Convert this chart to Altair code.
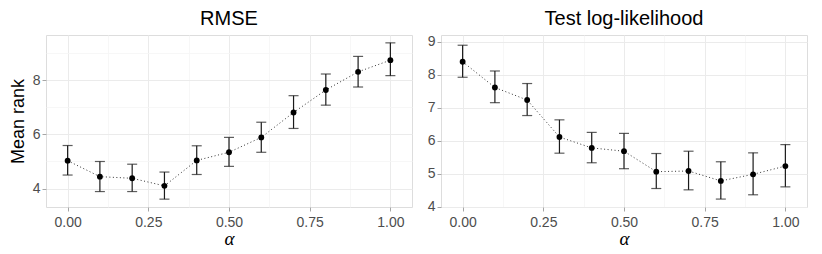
import altair as alt
import pandas as pd

alpha = [0.0, 0.1, 0.2, 0.3, 0.4, 0.5, 0.6, 0.7, 0.8, 0.9, 1.0]

rmse_mean = [5.03, 4.44, 4.38, 4.10, 5.04, 5.34, 5.89, 6.81, 7.64, 8.31, 8.74]
rmse_lo = [4.50, 3.89, 3.89, 3.61, 4.52, 4.82, 5.34, 6.22, 7.08, 7.75, 8.17]
rmse_hi = [5.59, 5.00, 4.90, 4.61, 5.58, 5.89, 6.45, 7.43, 8.23, 8.88, 9.38]

ll_mean = [8.39, 7.61, 7.23, 6.11, 5.78, 5.68, 5.06, 5.08, 4.78, 4.98, 5.23]
ll_lo = [7.92, 7.15, 6.76, 5.62, 5.33, 5.15, 4.55, 4.51, 4.23, 4.36, 4.60]
ll_hi = [8.89, 8.11, 7.73, 6.63, 6.25, 6.22, 5.61, 5.68, 5.36, 5.63, 5.88]

x_major = [0.0, 0.25, 0.5, 0.75, 1.0]
x_minor = [0.125, 0.375, 0.625, 0.875]
rmse_y_major = [4, 6, 8]
rmse_y_minor = [5, 7, 9]
ll_y_major = [4, 5, 6, 7, 8, 9]
ll_y_minor = [4.5, 5.5, 6.5, 7.5, 8.5]

GRID_MAJOR = "#ebebeb"
GRID_MINOR = "#f5f5f5"
TICK = "#a6a6a6"


def make_axis(major, minor, fmt, title, title_font, title_style, title_size,
              title_pad, label_pad):
    vals = sorted(major + minor)
    major_js = "[" + ",".join(str(v) for v in major) + "]"
    is_minor = f"indexof({major_js}, datum.value) < 0"
    kw = dict(
        values=vals,
        format=fmt,
        labelExpr=f"indexof({major_js}, datum.value) >= 0 ? datum.label : ''",
        labelOverlap=False,
        labelFontSize=14,
        labelColor="#4d4d4d",
        labelFont="Liberation Sans",
        labelPadding=label_pad,
        tickSize=4,
        tickColor=TICK,
        tickOpacity={"condition": {"test": is_minor, "value": 0}, "value": 1},
        gridColor={"condition": {"test": is_minor, "value": GRID_MINOR}, "value": GRID_MAJOR},
        gridWidth={"condition": {"test": is_minor, "value": 0.8}, "value": 1},
        domain=False,
        titleFontSize=title_size,
        titleFont=title_font,
        titleFontWeight="normal",
        titleColor="black",
        titlePadding=title_pad,
    )
    kw["title"] = title
    if title_style:
        kw["titleFontStyle"] = title_style
    return alt.Axis(**kw)


def panel(mean, lo, hi, title, ydom, ymaj, ymin, ytitle):
    df = pd.DataFrame({"alpha": alpha, "mean": mean, "lo": lo, "hi": hi})
    xax = make_axis(x_major, x_minor, ".2f", "α", "Liberation Serif", "italic", 19, 0, 4)
    yax = make_axis(ymaj, ymin, "d", ytitle, "Liberation Sans", None, 18, 5, 2)
    xs = alt.Scale(domain=[-0.067, 1.067], nice=False, zero=False)
    ys = alt.Scale(domain=ydom, nice=False, zero=False)
    X = alt.X("alpha:Q", scale=xs, axis=xax)
    base = alt.Chart(df)
    line = base.mark_line(color="#333333", strokeWidth=1, strokeDash=[1, 2.5]).encode(
        x=X, y=alt.Y("mean:Q", scale=ys, axis=yax)
    )
    rule = base.mark_rule(color="#1a1a1a", strokeWidth=1.2).encode(
        x=X, y=alt.Y("lo:Q", scale=ys, axis=yax), y2="hi:Q"
    )
    cap_hi = base.mark_tick(orient="horizontal", size=10, thickness=1.2, color="#1a1a1a").encode(
        x=X, y=alt.Y("hi:Q", scale=ys, axis=yax)
    )
    cap_lo = base.mark_tick(orient="horizontal", size=10, thickness=1.2, color="#1a1a1a").encode(
        x=X, y=alt.Y("lo:Q", scale=ys, axis=yax)
    )
    pts = base.mark_circle(size=34, color="black", opacity=1).encode(
        x=X, y=alt.Y("mean:Q", scale=ys, axis=yax)
    )
    return alt.layer(line, rule, cap_hi, cap_lo, pts).properties(
        width=366,
        height=172,
        title=alt.TitleParams(
            title, fontSize=20, font="Liberation Sans", fontWeight="normal",
            color="black", anchor="middle", offset=6,
        ),
    )


left = panel(rmse_mean, rmse_lo, rmse_hi, "RMSE", [3.32, 9.67],
             rmse_y_major, rmse_y_minor, "Mean rank")
right = panel(ll_mean, ll_lo, ll_hi, "Test log-likelihood", [3.99, 9.20],
              ll_y_major, ll_y_minor, None)

chart = alt.hconcat(left, right, spacing=13).properties(
    padding={"left": 0, "top": 0, "right": 0, "bottom": 0}
).configure_view(stroke="#b3b3b3", strokeWidth=1).configure(background="white")

chart.save("out.html", embed_options={"renderer": "svg", "actions": False})
